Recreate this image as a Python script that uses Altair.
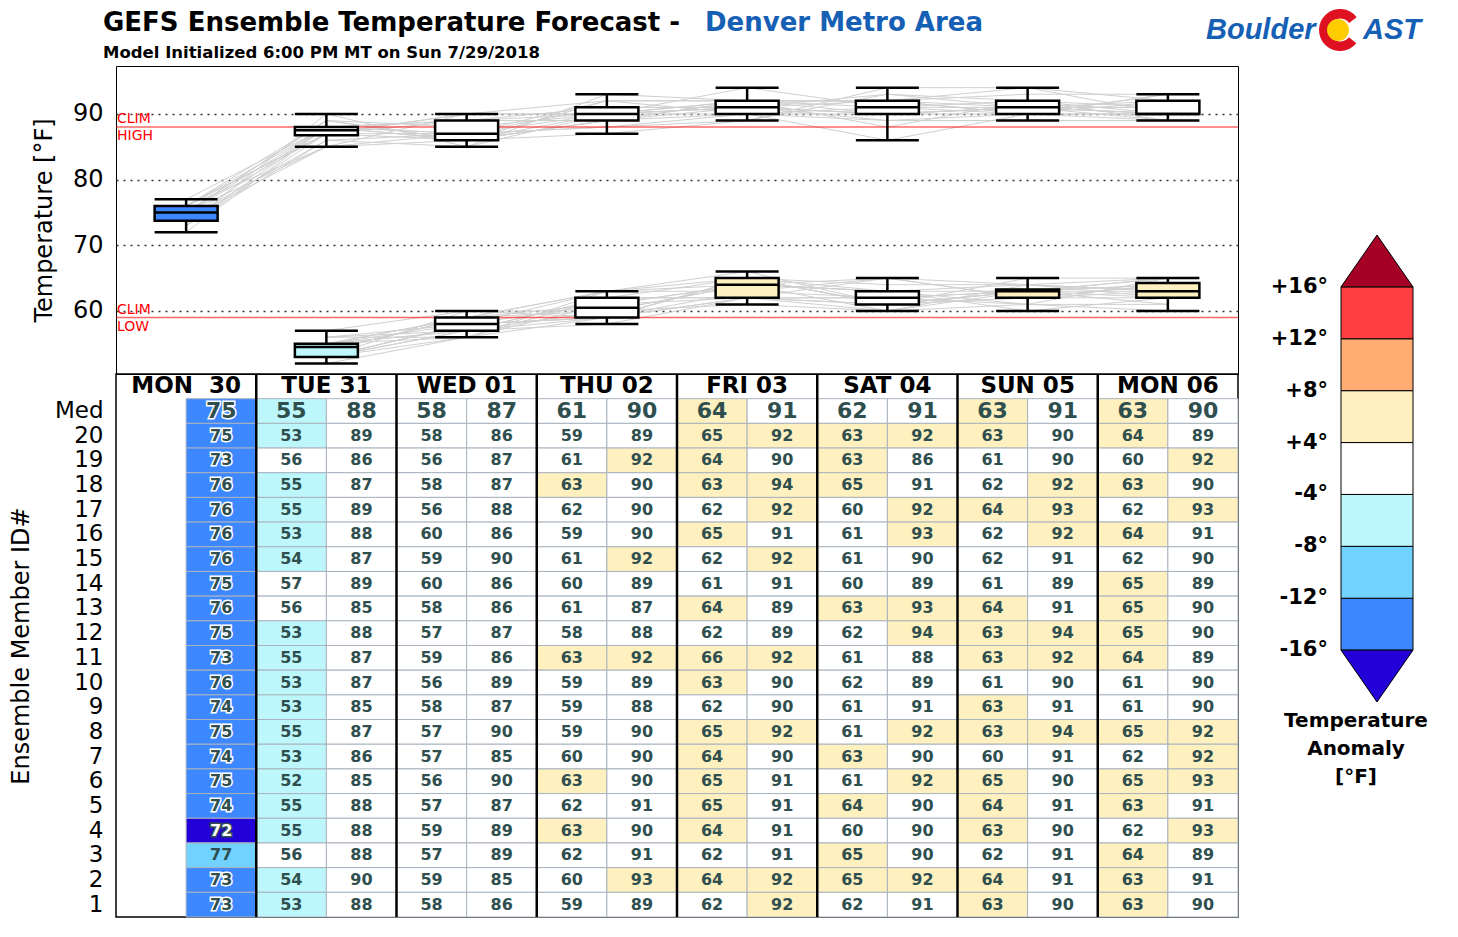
import json
import altair as alt
import pandas as pd

# ---------------- data ----------------
days = ["MON \u00a030", "TUE 31", "WED 01", "THU 02", "FRI 03", "SAT 04", "SUN 05", "MON 06"]
member_ids = [str(m) for m in range(20, 0, -1)]

high_by_day = [
    [75, 73, 76, 76, 76, 76, 75, 76, 75, 73, 76, 74, 75, 74, 75, 74, 72, 77, 73, 73],
    [89, 86, 87, 89, 88, 87, 89, 85, 88, 87, 87, 85, 87, 86, 85, 88, 88, 88, 90, 88],
    [86, 87, 87, 88, 86, 90, 86, 86, 87, 86, 89, 87, 90, 85, 90, 87, 89, 89, 85, 86],
    [89, 92, 90, 90, 90, 92, 89, 87, 88, 92, 89, 88, 90, 90, 90, 91, 90, 91, 93, 89],
    [92, 90, 94, 92, 91, 92, 91, 89, 89, 92, 90, 90, 92, 90, 91, 91, 91, 91, 92, 92],
    [92, 86, 91, 92, 93, 90, 89, 93, 94, 88, 89, 91, 92, 90, 92, 90, 90, 90, 92, 91],
    [90, 90, 92, 93, 92, 91, 89, 91, 94, 92, 90, 91, 94, 91, 90, 91, 90, 91, 91, 90],
    [89, 92, 90, 93, 91, 90, 89, 90, 90, 89, 90, 90, 92, 92, 93, 91, 93, 89, 91, 90],
]
low_by_day = [
    None,
    [53, 56, 55, 55, 53, 54, 57, 56, 53, 55, 53, 53, 55, 53, 52, 55, 55, 56, 54, 53],
    [58, 56, 58, 56, 60, 59, 60, 58, 57, 59, 56, 58, 57, 57, 56, 57, 59, 57, 59, 58],
    [59, 61, 63, 62, 59, 61, 60, 61, 58, 63, 59, 59, 59, 60, 63, 62, 63, 62, 60, 59],
    [65, 64, 63, 62, 65, 62, 61, 64, 62, 66, 63, 62, 65, 64, 65, 65, 64, 62, 64, 62],
    [63, 63, 65, 60, 61, 61, 60, 63, 62, 61, 62, 61, 61, 63, 61, 64, 60, 65, 65, 62],
    [63, 61, 62, 64, 62, 62, 61, 64, 63, 63, 61, 63, 63, 60, 65, 64, 63, 62, 64, 63],
    [64, 60, 63, 62, 64, 62, 65, 65, 65, 64, 61, 61, 65, 62, 65, 63, 62, 64, 63, 63],
]
med_high = [75, 88, 87, 90, 91, 91, 91, 90]
med_low = [None, 55, 58, 61, 64, 62, 63, 63]

clim_high = 88
clim_low = 59

legend_ticks = [-16, -12, -8, -4, 4, 8, 12, 16]
legend_labels = ["-16\u00b0", "-12\u00b0", "-8\u00b0", "-4\u00b0", "+4\u00b0", "+8\u00b0", "+12\u00b0", "+16\u00b0"]
bin_colors = ["#2400d8", "#3d87ff", "#72d2ff", "#bdf7fc", "#ffffff",
              "#fff0c0", "#ffad73", "#ff3f3f", "#a50026"]

title_text = "GEFS Ensemble Temperature Forecast -"
title_place = "Denver Metro Area"
subtitle_text = "Model Initialized 6:00 PM MT on Sun 7/29/2018"
legend_title = "Temperature\nAnomaly\n[\u00b0F]"

# ---------------- tables ----------------
mem_rows = []
for d, hv, lv in zip(days, high_by_day, low_by_day):
    for kind, vals in (("high", hv), ("low", lv)):
        if vals is None:
            continue
        for m, v in zip(member_ids, vals):
            mem_rows.append(dict(day=d, kind=kind, member=m, value=v, series=f"{kind}-{m}"))
mem_df = pd.DataFrame(mem_rows)

cols = []
cell_rows = []
for i, d in enumerate(days):
    for kind, vals, med, clim in (("lo", low_by_day[i], med_low[i], clim_low),
                                   ("hi", high_by_day[i], med_high[i], clim_high)):
        col = f"{d}|{kind}"
        cols.append(col)
        all_vals = [med] + (vals if vals is not None else [None] * len(member_ids))
        for r, v in zip(["Med"] + member_ids, all_vals):
            cell_rows.append(dict(col=col, row=r, value=v,
                                  anom=(v - clim) if v is not None else None))
cell_df = pd.DataFrame(cell_rows)
row_domain = ["hdr", "Med"] + member_ids

hdr_df = pd.DataFrame([dict(col=f"{d}|hi", row="hdr", label=d) for d in days])
div_df = pd.DataFrame([dict(col=f"{d}|lo") for d in days[1:]])

thr_domain = [t + 0.5 if t < 0 else t - 0.5 for t in legend_ticks]
thr_scale = alt.Scale(type="threshold", domain=thr_domain, range=bin_colors)

FONT = "DejaVu Sans"
TXT = "#2f4f4f"
BLUE = "#1560b4"

# ---------------- top panel ----------------
x_days = alt.X("day:N", scale=alt.Scale(type="band", domain=days, paddingInner=0, paddingOuter=0), axis=None)
y_scale = alt.Scale(domain=[50.4, 97.3], nice=False, zero=False)
y_axis = alt.Axis(values=[60, 70, 80, 90], grid=True, gridDash=[2, 5], gridColor="#333333",
                  gridWidth=1.5, ticks=False, domain=False, labelFontSize=24, labelFont=FONT,
                  labelColor="black", titleFontSize=24, titleFontWeight="normal", titleFont=FONT,
                  titleColor="black", labelPadding=13, titlePadding=16)


def ytemp(field):
    return alt.Y(f"{field}:Q", scale=y_scale, axis=y_axis, title="Temperature [\u00b0F]")


lines = alt.Chart(mem_df).mark_line(color="#d0d0d0", strokeWidth=1).encode(
    x=x_days, y=ytemp("value"), detail="series:N")

clim_df = pd.DataFrame(dict(y=[clim_high, clim_low], top=["CLIM", "CLIM"], bot=["HIGH", "LOW"]))
clim_rules = alt.Chart(clim_df).mark_rule(color="#ff0000", opacity=0.6, strokeWidth=1.5).encode(y=ytemp("y"))
clim_top = alt.Chart(clim_df).mark_text(align="left", baseline="bottom", color="red", fontSize=14, dy=-1, font=FONT).encode(
    x=alt.value(1), y=ytemp("y"), text="top:N")
clim_bot = alt.Chart(clim_df).mark_text(align="left", baseline="top", color="red", fontSize=14, dy=2, font=FONT).encode(
    x=alt.value(1), y=ytemp("y"), text="bot:N")

stats = alt.Chart(mem_df).transform_aggregate(
    lo="min(value)", q1="q1(value)", med="median(value)", q3="q3(value)", hi="max(value)",
    groupby=["day", "kind"]
).transform_calculate(
    anom=f"datum.med - (datum.kind == 'high' ? {clim_high} : {clim_low})"
)
BW = 63
whisk = stats.mark_rule(color="black", strokeWidth=2.5).encode(x=x_days, y=ytemp("lo"), y2=alt.Y2("hi"))
boxes = stats.mark_bar(size=BW, stroke="black", strokeWidth=2.5).encode(
    x=x_days, y=ytemp("q1"), y2=alt.Y2("q3"), fill=alt.Fill("anom:Q", scale=thr_scale, legend=None))
med_t = stats.mark_tick(size=BW, thickness=2.5, color="black", opacity=1).encode(x=x_days, y=ytemp("med"))
cap_lo = stats.mark_tick(size=BW, thickness=2.5, color="black", opacity=1).encode(x=x_days, y=ytemp("lo"))
cap_hi = stats.mark_tick(size=BW, thickness=2.5, color="black", opacity=1).encode(x=x_days, y=ytemp("hi"))

head_df = pd.DataFrame([dict(t=title_text, p=title_place, s=subtitle_text, a="Boulder", b="AST")])
t_main = alt.Chart(head_df).mark_text(align="left", baseline="alphabetic", fontSize=26, fontWeight="bold",
                                      color="black", font=FONT).encode(
    x=alt.value(-13), y=alt.value(-35), text="t:N")
t_place = alt.Chart(head_df).mark_text(align="left", baseline="alphabetic", fontSize=26, fontWeight="bold",
                                       color=BLUE, font=FONT).encode(
    x=alt.value(589), y=alt.value(-35), text="p:N")
t_sub = alt.Chart(head_df).mark_text(align="left", baseline="alphabetic", fontSize=16.5, fontWeight="bold",
                                     color="black", font=FONT).encode(
    x=alt.value(-13), y=alt.value(-8), text="s:N")
logo_a = alt.Chart(head_df).mark_text(align="left", baseline="alphabetic", fontSize=29, fontWeight="bold",
                                      fontStyle="italic", color=BLUE, font="Liberation Sans").encode(
    x=alt.value(1090), y=alt.value(-27), text="a:N")
logo_b = alt.Chart(head_df).mark_text(align="left", baseline="alphabetic", fontSize=29, fontWeight="bold",
                                      fontStyle="italic", color=BLUE, font="Liberation Sans").encode(
    x=alt.value(1247), y=alt.value(-27), text="b:N")
logo_ring = alt.Chart(head_df).mark_arc(color="#dd1122").encode(
    x=alt.value(1224), y=alt.value(-36), theta=alt.value(2.25), theta2=alt.value(7.2),
    radius=alt.value(21), radius2=alt.value(11.5))
logo_sun = alt.Chart(head_df).mark_point(filled=True, color="#ffcc00", opacity=1, shape="circle", size=484).encode(
    x=alt.value(1222), y=alt.value(-36))

main = alt.layer(lines, clim_rules, whisk, boxes, med_t, cap_lo, cap_hi, clim_top, clim_bot,
                 t_main, t_place, t_sub, logo_ring, logo_sun, logo_a, logo_b)

# ---------------- colour-bar legend (drawn beside the panels) ----------------
leg_bins = pd.DataFrame(dict(i0=list(range(7)), i1=list(range(1, 8)), b=list(range(1, 8))))
leg_tri = pd.DataFrame(dict(y=[-0.5, 7.5], b=[0, 8], up=[False, True]))
leg_lab = pd.DataFrame(dict(i=list(range(len(legend_labels))), lab=legend_labels))
leg_ttl = pd.DataFrame([dict(t=legend_title)])

leg_y_scale = alt.Scale(domain=[-1, 8], range=[636, 169], nice=False, zero=False)
leg_x_scale = alt.Scale(domain=[0, 1], range=[1225, 1297], nice=False, zero=False)
leg_x = alt.X("x:Q", scale=leg_x_scale, axis=None)
bin_color = alt.Color("b:O", scale=alt.Scale(domain=list(range(9)), range=bin_colors), legend=None)


def leg_y(field):
    return alt.Y(f"{field}:Q", scale=leg_y_scale, axis=None)


leg_rects = alt.Chart(leg_bins).transform_calculate(x="0", x2="1").mark_rect(stroke="black", strokeWidth=1).encode(
    x=leg_x, x2=alt.X2("x2:Q"), y=leg_y("i0"), y2=alt.Y2("i1:Q"), color=bin_color)
tri_up = alt.Chart(leg_tri).transform_filter("datum.up").transform_calculate(x="0.5").mark_point(
    shape="M-1,0.72L1,0.72L0,-0.72Z", size=5184, filled=True, opacity=1, stroke="black", strokeWidth=1).encode(
    x=leg_x, y=leg_y("y"), color=bin_color)
tri_dn = alt.Chart(leg_tri).transform_filter("!datum.up").transform_calculate(x="0.5").mark_point(
    shape="M-1,-0.72L1,-0.72L0,0.72Z", size=5184, filled=True, opacity=1, stroke="black", strokeWidth=1).encode(
    x=leg_x, y=leg_y("y"), color=bin_color)
leg_labels = alt.Chart(leg_lab).transform_calculate(x="0").mark_text(
    align="right", baseline="middle", fontSize=21, fontWeight="bold", font=FONT, color="black", dx=-13).encode(
    x=leg_x, y=leg_y("i"), text="lab:N")
leg_txt = alt.Chart(leg_ttl).transform_calculate(x="0.5", y="-1.17").mark_text(
    lineBreak="\n", align="center", baseline="top", fontSize=20, fontWeight="bold", font=FONT,
    lineHeight=28, dx=-21, color="black").encode(
    x=leg_x, y=leg_y("y"), text="t:N")

legend = alt.layer(leg_rects, tri_up, tri_dn, leg_labels, leg_txt)

top = alt.layer(main, legend).resolve_scale(
    x="independent", y="independent", color="independent", fill="independent"
).properties(width=1122, height=308, view=alt.ViewBackground(stroke="black", strokeWidth=1))

# ---------------- table ----------------
x_col = alt.X("col:N", scale=alt.Scale(type="band", domain=cols, paddingInner=0, paddingOuter=0), axis=None)
y_row = alt.Y("row:N", scale=alt.Scale(domain=row_domain, paddingInner=0, paddingOuter=0),
              axis=alt.Axis(labelExpr="datum.value == 'hdr' ? '' : datum.value", ticks=False, domain=False,
                            labelFontSize=23, labelFont=FONT, labelColor="black", labelPadding=13,
                            titleFontSize=24, titleFont=FONT, titleFontWeight="normal",
                            titleColor="black", titlePadding=21),
              title="Ensemble Member ID#")

cells = alt.Chart(cell_df).mark_rect(stroke="#a9b3be", strokeWidth=1).encode(
    x=x_col, y=y_row,
    fill=alt.condition("isValid(datum.value)", alt.Fill("anom:Q", scale=thr_scale, legend=None), alt.value("white")))

size_cond = alt.condition("datum.row == 'Med'", alt.value(22), alt.value(16))
fill_cond = alt.condition("datum.anom <= -16", alt.value("white"), alt.value(TXT))
outline = alt.Chart(cell_df).transform_filter("isValid(datum.value) && datum.anom <= -12").mark_text(
    fontWeight="bold", font=FONT, strokeWidth=3).encode(
    x=x_col, y=y_row, text=alt.Text("value:Q", format="d"), size=size_cond, color=fill_cond,
    stroke=alt.condition("datum.anom <= -16", alt.value(TXT), alt.value("white")))
nums = alt.Chart(cell_df).transform_filter("isValid(datum.value)").mark_text(
    fontWeight="bold", font=FONT).encode(
    x=x_col, y=y_row, text=alt.Text("value:Q", format="d"), size=size_cond, color=fill_cond)

x_edge = alt.X("col:N", scale=alt.Scale(type="band", domain=cols, paddingInner=0, paddingOuter=0),
               axis=None, bandPosition=0)
hdr = alt.Chart(hdr_df).mark_text(fontWeight="bold", font=FONT, fontSize=23, color="black").encode(
    x=x_edge, y=y_row, text="label:N")
dividers = alt.Chart(div_df).mark_rule(color="black", strokeWidth=2.5).encode(x=x_edge)

table = alt.layer(cells, outline, nums, hdr, dividers).properties(
    width=1122, height=543, view=alt.ViewBackground(stroke="black", strokeWidth=1.5))

chart = alt.vconcat(top, table, spacing=0, bounds="flush").properties(
    padding={"left": 0, "top": 0, "right": 0, "bottom": 0}
).configure(font=FONT)

chart.save("out.html", embed_options={"renderer": "svg", "actions": False})
